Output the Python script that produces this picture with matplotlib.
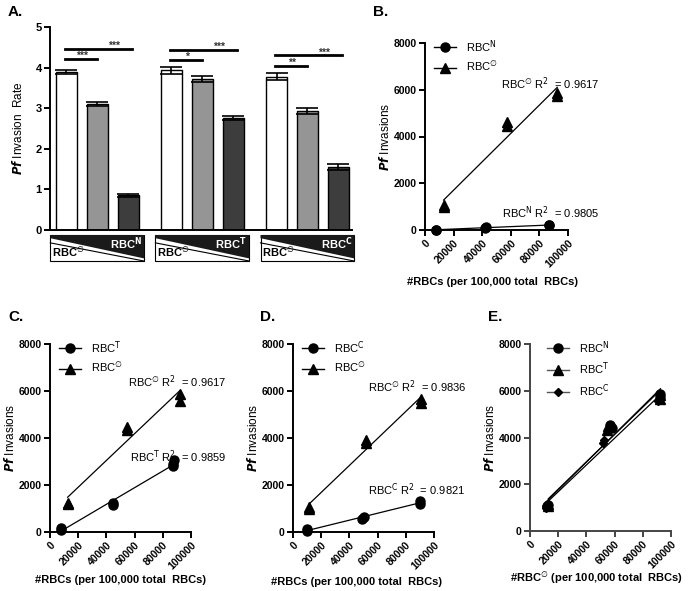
import numpy as np
import matplotlib
matplotlib.use("Agg")
import matplotlib.pyplot as plt
from matplotlib.lines import Line2D
from matplotlib.patches import Polygon, Rectangle
from matplotlib.transforms import blended_transform_factory

plt.rcParams['font.family'] = ['Liberation Sans', 'DejaVu Sans']
plt.rcParams['mathtext.fontset'] = 'dejavusans'

# ---------------- Data ----------------
# Panel A
group_names = ['N', 'T', 'C']
bar_means = [3.90, 3.10, 0.85, 3.93, 3.72, 2.76, 3.78, 2.93, 1.55]
bar_errs = [0.05, 0.05, 0.03, 0.08, 0.07, 0.05, 0.08, 0.08, 0.07]
bar_colors = ['white', '#959595', '#3d3d3d']
sig_short_y = [4.22, 4.18, 4.04]
sig_long_y = [4.47, 4.44, 4.30]
sig_short_lab = ['***', '*', '**']
sig_long_lab = ['***', '***', '***']

# Panel B
bN_x = [7500, 7500, 42000, 43000, 87000, 87000]
bN_y = [5, 20, 80, 110, 200, 230]
bE_x = [13000, 13000, 57500, 57500, 92500, 92500]
bE_y = [1000, 1080, 4450, 4600, 5750, 5850]
b_r2 = ['0.9805', '0.9617']

# Panel C
cT_x = [8000, 8000, 45000, 45000, 87500, 87500, 88000]
cT_y = [100, 170, 1150, 1230, 2800, 2900, 3050]
cE_x = [12500, 12500, 54500, 54500, 92000, 92000]
cE_y = [1200, 1250, 4340, 4480, 5590, 5860]
c_r2 = ['0.9859', '0.9617']

# Panel D
dC_x = [10000, 10000, 49000, 50500, 90000, 90000]
dC_y = [60, 110, 560, 640, 1210, 1320]
dE_x = [11500, 11500, 52000, 52000, 91000, 91000]
dE_y = [1000, 1060, 3800, 3920, 5500, 5680]
d_r2 = ['0.9821', '0.9836']

# Panel E
eN_x = [12000, 12500, 57000, 58000, 92500, 92500]
eN_y = [1050, 1100, 4550, 4420, 5870, 5750]
eT_x = [13000, 13000, 54500, 55000, 92500, 92500]
eT_y = [1140, 1060, 4340, 4480, 5800, 5640]
eC_x = [11000, 11500, 51500, 52500, 91000, 91500]
eC_y = [1000, 1050, 3770, 3880, 5550, 5650]

x_ticks = [0, 20000, 40000, 60000, 80000, 100000]
y_ticks = [0, 2000, 4000, 6000, 8000]

EMPTY = '\u2205'

W, H = 689, 591
fig = plt.figure(figsize=(W / 100, H / 100), dpi=100)


def px_axes(x0, y0, x1, y1):
    return fig.add_axes([x0 / W, 1 - y1 / H, (x1 - x0) / W, (y1 - y0) / H])


def style(ax, lw=1.4):
    for s in ['top', 'right']:
        ax.spines[s].set_visible(False)
    for s in ['left', 'bottom']:
        ax.spines[s].set_linewidth(lw)
    ax.tick_params(width=lw, length=4, labelsize=7.5, pad=2)
    for lab in ax.get_xticklabels() + ax.get_yticklabels():
        lab.set_fontweight('bold')


# ---------------- Panel A ----------------
axA = px_axes(50, 27, 352, 230)
pos = []
for g in range(3):
    for k in range(3):
        pos.append(g * 3.4 + k)
cols = [bar_colors[i % 3] for i in range(9)]
axA.bar(pos, bar_means, width=0.68, color=cols, edgecolor='black', linewidth=1.0,
        yerr=bar_errs, capsize=8, error_kw=dict(elinewidth=1.2, capthick=1.2, ecolor='black'),
        zorder=2)
axA.set_xlim(-0.53, 9.24)
axA.set_ylim(0, 5)
axA.set_yticks([0, 1, 2, 3, 4, 5])
axA.set_xticks([])
style(axA)
axA.tick_params(labelsize=8)
for lab in axA.get_yticklabels():
    lab.set_fontweight('bold')
axA.set_ylabel(r'$\mathbfit{Pf}$ Invasion  Rate', fontsize=8.5)
axA.yaxis.set_label_coords(-25 / 302, 0.5)

for g in range(3):
    p0 = g * 3.4
    axA.plot([p0 - 0.05, p0 + 1.0], [sig_short_y[g]] * 2, color='black', lw=2.0, clip_on=False)
    axA.plot([p0 - 0.05, p0 + 2.12], [sig_long_y[g]] * 2, color='black', lw=2.0, clip_on=False)
    axA.text(p0 + 0.5, sig_short_y[g] + 0.0, sig_short_lab[g], ha='center', va='baseline',
             fontsize=7.5, fontweight='bold', color='#333333')
    axA.text(p0 + 1.55, sig_long_y[g] + 0.0, sig_long_lab[g], ha='center', va='baseline',
             fontsize=7.5, fontweight='bold', color='#333333')

tr = blended_transform_factory(axA.transData, axA.transAxes)
T, B = -0.025, -0.153
for g in range(3):
    c = g * 3.4 + 1
    L, R = c - 1.52, c + 1.52
    hgt = T - B
    axA.add_patch(Rectangle((L, B), R - L, hgt, transform=tr, facecolor='white',
                            edgecolor='black', lw=0.8, clip_on=False))
    axA.add_patch(Polygon([(L, T), (R, T), (R, B + 0.1 * hgt), (L, T - 0.12 * hgt)],
                          closed=True, transform=tr, facecolor='#1a1a1a', edgecolor='none',
                          clip_on=False))
    axA.plot([L, R], [T - 0.3 * hgt, B], transform=tr, color='black', lw=0.8, clip_on=False)
    axA.text(R - 0.08, -0.069, 'RBC$^{\\mathbf{' + group_names[g] + '}}$', transform=tr,
             ha='right', va='center', color='white', fontsize=8, fontweight='bold')
    axA.text(L + 0.05, -0.115, 'RBC$^{' + EMPTY + '}$', transform=tr, ha='left', va='center',
             color='black', fontsize=8, fontweight='bold')


# ---------------- Scatter panels ----------------
def scatter_panel(box, series, r2_texts, xlabel, legend_anchor, spine_color='black'):
    x0, y0, x1, y1 = box
    ax = px_axes(x0, y0, x1, y1)
    handles = []
    for s in series:
        xs, ys, mk, lab, ms = s['x'], s['y'], s['marker'], s['label'], s['ms']
        ax.plot(xs, ys, linestyle='none', marker=mk, color='black', markersize=ms,
                clip_on=False, zorder=3)
        k, b = np.polyfit(xs, ys, 1)
        xr = np.array([min(xs), max(xs)])
        ax.plot(xr, k * xr + b, color='black', lw=0.9, zorder=2)
        handles.append(Line2D([0], [0], color=s.get('lcolor', 'black'), lw=1.0, marker=mk,
                              markersize=ms, markerfacecolor='black', markeredgecolor='black',
                              label=lab))
    ax.set_xlim(0, 100000)
    ax.set_ylim(0, 8000)
    ax.set_xticks(x_ticks)
    ax.set_yticks(y_ticks)
    ax.set_xticklabels([str(v) for v in x_ticks], rotation=45, ha='right',
                       rotation_mode='anchor')
    style(ax)
    for s in ['left', 'bottom']:
        ax.spines[s].set_color(spine_color)
    ax.tick_params(colors=spine_color, labelcolor='black')
    ax.set_ylabel(r'$\mathbfit{Pf}$ Invasions', fontsize=8.5)
    ax.yaxis.set_label_coords(-33 / (x1 - x0), 0.5)
    ax.text(legend_anchor[2], legend_anchor[3], xlabel, transform=ax.transAxes, ha='center',
            va='center', fontsize=8, fontweight='bold')
    ax.legend(handles=handles, loc='upper left', bbox_to_anchor=legend_anchor[:2],
              frameon=False, fontsize=8, handlelength=2.0, handletextpad=0.9,
              borderaxespad=0, labelspacing=0.45)
    for t in r2_texts:
        ax.text(t[0], t[1], t[2], ha='left', va='center', fontsize=8)
    return ax


xl_std = '#RBCs (per 100,000 total  RBCs)'

# Panel B
scatter_panel((425, 43, 568, 230),
              [dict(x=bN_x, y=bN_y, marker='o', label='RBC$^{\\mathrm{N}}$', ms=6.5),
               dict(x=bE_x, y=bE_y, marker='^', label='RBC$^{' + EMPTY + '}$', ms=6.5)],
              [(53000, 6280, 'RBC$^{' + EMPTY + '}$ R$^2$  = ' + b_r2[1]),
               (54000, 730, 'RBC$^{\\mathrm{N}}$ R$^2$  = ' + b_r2[0])],
              xl_std, (0.03, 1.05, 0.475, -0.278))

# Panel C
scatter_panel((50, 344, 191, 532),
              [dict(x=cT_x, y=cT_y, marker='o', label='RBC$^{\\mathrm{T}}$', ms=6.5),
               dict(x=cE_x, y=cE_y, marker='^', label='RBC$^{' + EMPTY + '}$', ms=6.5)],
              [(55000, 6380, 'RBC$^{' + EMPTY + '}$ R$^2$  = ' + c_r2[1]),
               (56500, 3190, 'RBC$^{\\mathrm{T}}$ R$^2$  = ' + c_r2[0])],
              xl_std, (0.03, 1.05, 0.5, -0.255))

# Panel D
scatter_panel((293, 344, 434, 532),
              [dict(x=dC_x, y=dC_y, marker='o', label='RBC$^{\\mathrm{C}}$', ms=6.5),
               dict(x=dE_x, y=dE_y, marker='^', label='RBC$^{' + EMPTY + '}$', ms=6.5)],
              [(53000, 6170, 'RBC$^{' + EMPTY + '}$ R$^2$  = ' + d_r2[1]),
               (53000, 1790, 'RBC$^{\\mathrm{C}}$ R$^2$  = ' + d_r2[0])],
              xl_std, (0.03, 1.05, 0.45, -0.266))

# Panel E
scatter_panel((530, 344, 671, 531),
              [dict(x=eN_x, y=eN_y, marker='o', label='RBC$^{\\mathrm{N}}$', ms=6.5, lcolor='#555555'),
               dict(x=eT_x, y=eT_y, marker='^', label='RBC$^{\\mathrm{T}}$', ms=6.5, lcolor='#555555'),
               dict(x=eC_x, y=eC_y, marker='D', label='RBC$^{\\mathrm{C}}$', ms=4.5, lcolor='#555555')],
              [],
              '#RBC$^{' + EMPTY + '}$ (per 100,000 total  RBCs)', (0.09, 1.05, 0.475, -0.255),
              spine_color='#444444')

# Panel letters
for lab, (x, y) in zip(['A.', 'B.', 'C.', 'D.', 'E.'],
                       [(8, 12), (373, 12), (8, 317), (260, 317), (488, 317)]):
    fig.text(x / W, 1 - y / H, lab, fontsize=11, fontweight='bold', ha='left', va='center')

fig.savefig('out.png', dpi=100)
